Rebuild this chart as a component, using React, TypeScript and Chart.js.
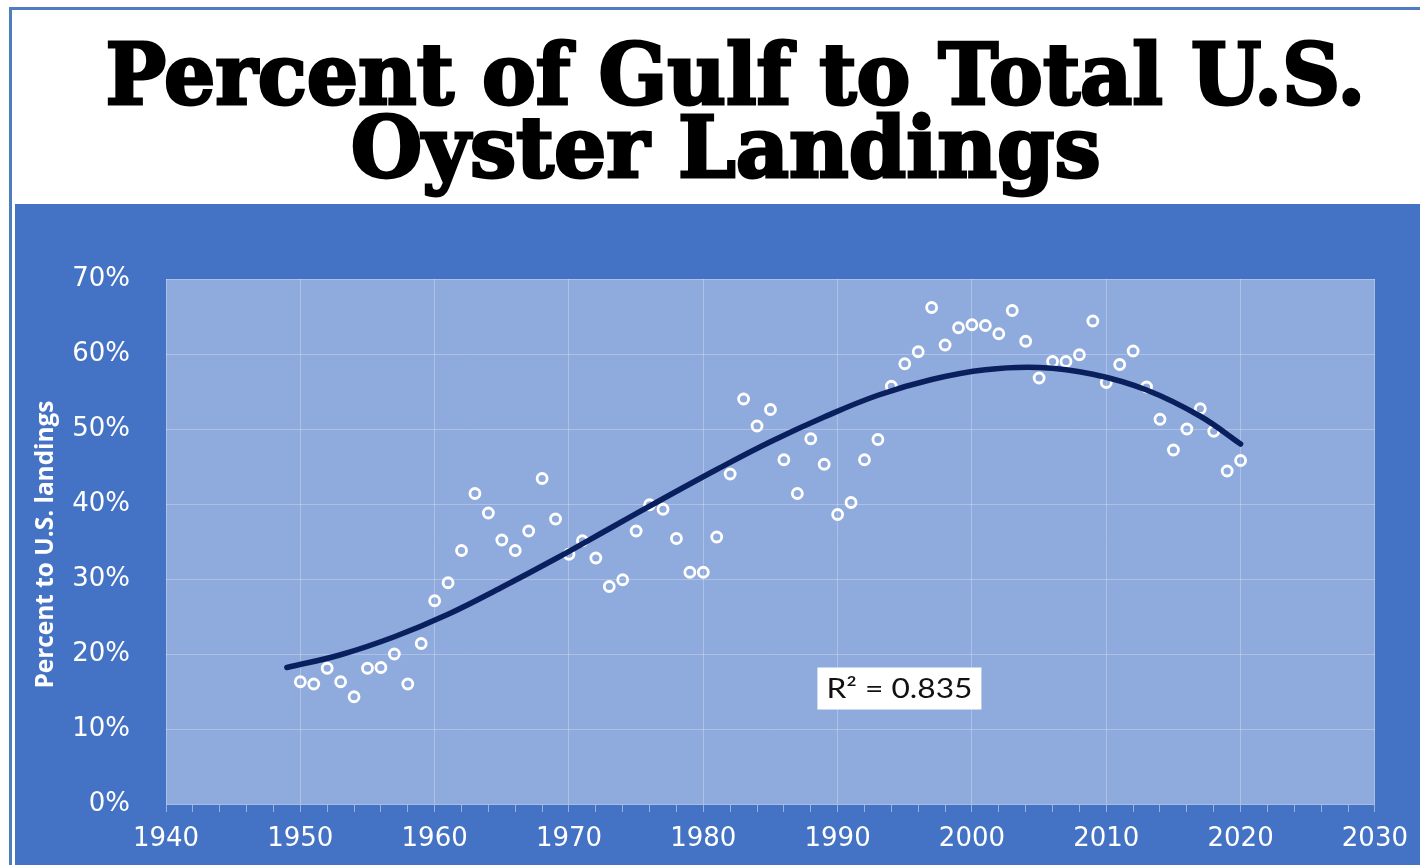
import React, { useEffect, useRef } from "react";
import { Chart, registerables } from "chart.js";

Chart.register(...registerables);

// ---------- data ----------
const titleLines = ["Percent of Gulf to Total U.S.", "Oyster Landings"];
const yAxisTitle = "Percent to U.S. landings";
const r2Text = "R\u00B2 = 0.835";

const years = [
  1950, 1951, 1952, 1953, 1954, 1955, 1956, 1957, 1958, 1959,
  1960, 1961, 1962, 1963, 1964, 1965, 1966, 1967, 1968, 1969,
  1970, 1971, 1972, 1973, 1974, 1975, 1976, 1977, 1978, 1979,
  1980, 1981, 1982, 1983, 1984, 1985, 1986, 1987, 1988, 1989,
  1990, 1991, 1992, 1993, 1994, 1995, 1996, 1997, 1998, 1999,
  2000, 2001, 2002, 2003, 2004, 2005, 2006, 2007, 2008, 2009,
  2010, 2011, 2012, 2013, 2014, 2015, 2016, 2017, 2018, 2019,
  2020,
];

// percent of Gulf to total U.S. oyster landings
const gulfShare = [
  16.3, 16.0, 18.1, 16.3, 14.3, 18.1, 18.2, 20.0, 16.0, 21.4,
  27.1, 29.5, 33.8, 41.4, 38.8, 35.2, 33.8, 36.4, 43.4, 38.0,
  33.3, 35.1, 32.8, 29.0, 29.9, 36.4, 39.9, 39.3, 35.4, 30.9,
  30.9, 35.6, 44.0, 54.0, 50.4, 52.6, 45.9, 41.4, 48.7, 45.3,
  38.6, 40.2, 45.9, 48.6, 55.7, 58.7, 60.3, 66.2, 61.2, 63.5,
  63.9, 63.8, 62.7, 65.8, 61.7, 56.8, 59.0, 59.0, 59.9, 64.4,
  56.2, 58.6, 60.4, 55.6, 51.3, 47.2, 50.0, 52.7, 49.7, 44.4,
  45.8,
];

// polynomial trendline, values
const trendYears = [1949, 1953, 1957, 1961, 1965, 1969, 1973, 1977, 1981, 1985, 1989, 1993, 1997, 2001, 2005, 2009, 2013, 2017, 2020];
const trendValues = [18.2, 19.9, 22.3, 25.3, 28.9, 32.7, 36.7, 40.7, 44.6, 48.3, 51.6, 54.5, 56.6, 57.9, 58.2, 57.3, 55.2, 51.7, 48.0];

const xMin = 1940;
const xMax = 2030;
const xMinorStep = 2;
const xLabelStep = 10;
const yMin = 0;
const yMax = 70;
const yStep = 10;

// R² label anchor (data coordinates)
const r2AnchorYear = 1994.6;
const r2AnchorValue = 15.4;

// ---------- styles ----------
const PANEL_BLUE = "#4472C4";
const PLOT_BLUE = "#8FAADC";
const GRID = "rgba(255,255,255,0.28)";
const TREND = "#0A1F5E";
const R2_FONT = "26px Lato, 'Open Sans', sans-serif";
const YTITLE_FONT = "bold 25px 'Liberation Sans Narrow', 'Open Sans', sans-serif";
const TICK_FAMILY = "'DejaVu Sans', sans-serif";

const plotBgPlugin = {
  id: "plotBg",
  beforeDraw(chart: any) {
    const { ctx, chartArea, width, height } = chart;
    ctx.save();
    ctx.fillStyle = PANEL_BLUE;
    ctx.fillRect(0, 0, width, height);
    ctx.fillStyle = PLOT_BLUE;
    ctx.fillRect(chartArea.left, chartArea.top, chartArea.right - chartArea.left, chartArea.bottom - chartArea.top);
    ctx.restore();
  },
};

const yTitlePlugin = {
  id: "yTitle",
  afterDraw(chart: any) {
    const { ctx, chartArea } = chart;
    const cy = (chartArea.top + chartArea.bottom) / 2 + 3;
    ctx.save();
    ctx.translate(31, cy);
    ctx.rotate(-Math.PI / 2);
    ctx.font = YTITLE_FONT;
    const w = ctx.measureText(yAxisTitle).width;
    ctx.scale(288 / w, 1);
    ctx.fillStyle = "#FFFFFF";
    ctx.textAlign = "center";
    ctx.textBaseline = "middle";
    ctx.fillText(yAxisTitle, 0, 0);
    ctx.restore();
  },
};

const r2Plugin = {
  id: "r2Box",
  afterDraw(chart: any) {
    const { ctx } = chart;
    const xs = chart.scales.x;
    const ys = chart.scales.y;
    const cx = xs.getPixelForValue(r2AnchorYear);
    const cy = ys.getPixelForValue(r2AnchorValue);
    const bw = 164;
    const bh = 42;
    ctx.save();
    ctx.fillStyle = "#FFFFFF";
    ctx.fillRect(cx - bw / 2, cy - bh / 2, bw, bh);
    ctx.fillStyle = "#111111";
    ctx.font = R2_FONT;
    ctx.textAlign = "center";
    ctx.textBaseline = "middle";
    const w = ctx.measureText(r2Text).width;
    ctx.translate(cx, cy + 1);
    ctx.scale(146 / w, 1);
    ctx.fillText(r2Text, 0, 0);
    ctx.restore();
  },
};

function Title() {
  const refs = [useRef<HTMLSpanElement>(null), useRef<HTMLSpanElement>(null)];
  const targets = [1260, 750];
  useEffect(() => {
    const fit = () =>
      refs.forEach((r, i) => {
        const el = r.current;
        if (!el) return;
        el.style.transform = "none";
        const w = el.getBoundingClientRect().width;
        el.style.transform = `scaleX(${targets[i] / w})`;
      });
    fit();
    if ((document as any).fonts) (document as any).fonts.ready.then(fit);
  }, []);
  const tops = [33, 106];
  const centers = [735, 726];
  return (
    <>
      {titleLines.map((t, i) => (
        <div
          key={i}
          style={{
            position: "absolute",
            top: tops[i],
            left: centers[i] - 1000,
            width: 2000,
            textAlign: "center",
            fontFamily: "'DejaVu Serif', serif",
            fontWeight: 700,
            fontSize: 84,
            lineHeight: "84px",
            color: "#000",
            whiteSpace: "nowrap",
          }}
        >
          <span
            ref={refs[i]}
            style={{
              display: "inline-block",
              transformOrigin: "center",
              WebkitTextStroke: "3px #000",
            }}
          >
            {t}
          </span>
        </div>
      ))}
    </>
  );
}

export default function App() {
  const canvasRef = useRef<HTMLCanvasElement>(null);

  useEffect(() => {
    const canvas = canvasRef.current;
    if (!canvas) return;
    let chart: any = null;
    let cancelled = false;

    const build = () => {
      if (cancelled || !canvas) return;
      const points = years.map((yr, i) => ({ x: yr, y: gulfShare[i] }));
      const trend = trendYears.map((yr, i) => ({ x: yr, y: trendValues[i] }));
      chart = new Chart(canvas, {
        type: "scatter",
        data: {
          datasets: [
            {
              label: "Trend",
              data: trend,
              showLine: true,
              borderColor: TREND,
              borderWidth: 5.5,
              pointRadius: 0,
              tension: 0.4,
              borderCapStyle: "round",
              order: 0,
            } as any,
            {
              label: "Gulf share",
              data: points,
              showLine: false,
              pointRadius: 5,
              pointBorderWidth: 2.8,
              pointBorderColor: "#FFFFFF",
              pointBackgroundColor: "rgba(0,0,0,0)",
              order: 1,
            } as any,
          ],
        },
        options: {
          animation: false,
          responsive: false,
          devicePixelRatio: 1,
          layout: { padding: { top: 75, right: 44, left: 0, bottom: 0 } },
          plugins: {
            legend: { display: false },
            tooltip: { enabled: false },
            title: { display: false },
          },
          scales: {
            x: {
              type: "linear",
              min: xMin,
              max: xMax,
              afterFit: (s: any) => {
                s.height = 61;
              },
              ticks: {
                stepSize: xMinorStep,
                autoSkip: false,
                maxRotation: 0,
                color: "#FFFFFF",
                padding: 12,
                font: { family: TICK_FAMILY, size: 26 },
                callback: (v: any) => (Number(v) % xLabelStep === 0 ? String(v) : ""),
              },
              grid: {
                color: (c: any) => (c.tick && Number(c.tick.value) % xLabelStep === 0 ? GRID : "rgba(0,0,0,0)"),
                tickColor: "rgba(255,255,255,0.45)",
                tickLength: 8,
                drawTicks: true,
              },
              border: { display: true, color: "rgba(255,255,255,0.35)" },
            },
            y: {
              type: "linear",
              min: yMin,
              max: yMax,
              afterFit: (s: any) => {
                s.width = 151;
              },
              ticks: {
                stepSize: yStep,
                color: "#FFFFFF",
                padding: 36,
                font: { family: TICK_FAMILY, size: 26 },
                callback: (v: any) => `${v}%`,
              },
              grid: { color: GRID, drawTicks: false },
              border: { display: false },
            },
          },
        } as any,
        plugins: [plotBgPlugin, yTitlePlugin, r2Plugin],
      });
    };

    const fonts = (document as any).fonts;
    if (fonts && fonts.load) {
      Promise.all([fonts.load(R2_FONT, r2Text), fonts.load(YTITLE_FONT, yAxisTitle), fonts.load("26px 'DejaVu Sans'", "0123456789%")])
        .catch(() => null)
        .then(build);
    } else {
      build();
    }
    return () => {
      cancelled = true;
      if (chart) chart.destroy();
    };
  }, []);

  return (
    <div
      style={{
        position: "fixed",
        top: 0,
        left: 0,
        width: 1420,
        height: 865,
        background: "#FFFFFF",
        overflow: "hidden",
      }}
    >
      <div
        style={{
          position: "absolute",
          left: 9,
          top: 7,
          width: 1420,
          height: 870,
          borderTop: "3px solid #4F7DBF",
          borderLeft: "3px solid #4F7DBF",
          boxSizing: "border-box",
        }}
      />
      <Title />
      <div style={{ position: "absolute", left: 15, top: 204, width: 1405, height: 661, background: PANEL_BLUE }}>
        <canvas ref={canvasRef} width={1405} height={661} style={{ display: "block", width: 1405, height: 661 }} />
      </div>
    </div>
  );
}
